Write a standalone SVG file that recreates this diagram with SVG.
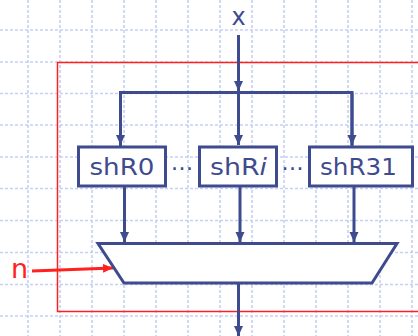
<svg xmlns="http://www.w3.org/2000/svg" width="418" height="336" viewBox="0 0 418 336">
<defs>
<style>
.grid line{stroke:#c6d0f6;stroke-width:1.6;stroke-dasharray:3 2}
.wire{stroke:#3f4b8f;stroke-width:3;fill:none}
.box{fill:#fff;stroke:#3f4b8f;stroke-width:3}
.lbl{font-family:"DejaVu Sans",sans-serif;font-size:22.5px;fill:#3f4b8f;text-anchor:middle}
.red{stroke:#ff2020;fill:none}
</style>
<marker id="ah" markerUnits="userSpaceOnUse" markerWidth="12" markerHeight="12" viewBox="0 0 12 12" refX="10" refY="6" orient="auto">
<path d="M0,1.5 L10,6 L0,10.5 Z" fill="#3f4b8f"/>
</marker>
<marker id="ahr" markerUnits="userSpaceOnUse" markerWidth="12" markerHeight="12" viewBox="0 0 12 12" refX="10" refY="6" orient="auto">
<path d="M0,1.5 L10,6 L0,10.5 Z" fill="#ff2020"/>
</marker>
</defs>
<rect width="418" height="336" fill="#fff"/>
<g class="grid">
<line x1="28" y1="0" x2="28" y2="336"/><line x1="60" y1="0" x2="60" y2="336"/><line x1="92" y1="0" x2="92" y2="336"/><line x1="124" y1="0" x2="124" y2="336"/><line x1="156" y1="0" x2="156" y2="336"/><line x1="188" y1="0" x2="188" y2="336"/><line x1="220" y1="0" x2="220" y2="336"/><line x1="252" y1="0" x2="252" y2="336"/><line x1="284" y1="0" x2="284" y2="336"/><line x1="316" y1="0" x2="316" y2="336"/><line x1="348" y1="0" x2="348" y2="336"/><line x1="380" y1="0" x2="380" y2="336"/><line x1="412" y1="0" x2="412" y2="336"/>
<line x1="0" y1="30" x2="418" y2="30"/><line x1="0" y1="62" x2="418" y2="62"/><line x1="0" y1="93.5" x2="418" y2="93.5"/><line x1="0" y1="125" x2="418" y2="125"/><line x1="0" y1="157" x2="418" y2="157"/><line x1="0" y1="188.5" x2="418" y2="188.5"/><line x1="0" y1="220.5" x2="418" y2="220.5"/><line x1="0" y1="252.5" x2="418" y2="252.5"/><line x1="0" y1="284.5" x2="418" y2="284.5"/><line x1="0" y1="316" x2="418" y2="316"/>
</g>
<rect id="frame" class="red" x="57.5" y="62.5" width="420" height="249" stroke-width="1.5"/>
<g id="connectors">
<line class="wire" x1="238.5" y1="35" x2="238.5" y2="91" marker-end="url(#ah)"/>
<polyline class="wire" points="120.5,146 120.5,92.5 352,92.5 352,146"/>
<line class="wire" x1="120.5" y1="92.5" x2="120.5" y2="145" marker-end="url(#ah)"/>
<line class="wire" x1="238.5" y1="92.5" x2="238.5" y2="145" marker-end="url(#ah)"/>
<line class="wire" x1="352" y1="92.5" x2="352" y2="145" marker-end="url(#ah)"/>
<line class="wire" x1="124.5" y1="186" x2="124.5" y2="242" marker-end="url(#ah)"/>
<line class="wire" x1="240" y1="186" x2="240" y2="242" marker-end="url(#ah)"/>
<line class="wire" x1="354" y1="186" x2="354" y2="242" marker-end="url(#ah)"/>
<line class="wire" x1="238.5" y1="283" x2="238.5" y2="336" marker-end="url(#ah)"/>
<line class="red" x1="32" y1="271" x2="113" y2="268" stroke-width="3" marker-end="url(#ahr)"/>
</g>
<g id="x-label"><text x="238.5" y="25" font-family="DejaVu Sans, sans-serif" font-size="24" fill="#3f4b8f" text-anchor="middle">x</text></g>
<g id="n-label"><text x="19.5" y="278" font-family="DejaVu Sans, sans-serif" font-size="27" fill="#ff2020" text-anchor="middle">n</text></g>
<g id="shR0">
<rect class="box" x="78.5" y="147" width="87" height="39"/>
<text class="lbl" x="122" y="174.5" textLength="65" lengthAdjust="spacingAndGlyphs">shR0</text>
</g>
<g id="dots1"><text class="lbl" x="182" y="170">…</text></g>
<g id="shRi">
<rect class="box" x="199.5" y="147" width="77" height="39"/>
<text class="lbl" x="238.5" y="174.5" textLength="57" lengthAdjust="spacingAndGlyphs">shR<tspan font-style="italic">i</tspan></text>
</g>
<g id="dots2"><text class="lbl" x="292.5" y="170">…</text></g>
<g id="shR31">
<rect class="box" x="309.5" y="147" width="103" height="39"/>
<text class="lbl" x="358.5" y="174.5" textLength="77" lengthAdjust="spacingAndGlyphs">shR31</text>
</g>
<g id="mux">
<polygon class="box" points="98,243.5 397,243.5 372,283 124,283"/>
</g>
</svg>
